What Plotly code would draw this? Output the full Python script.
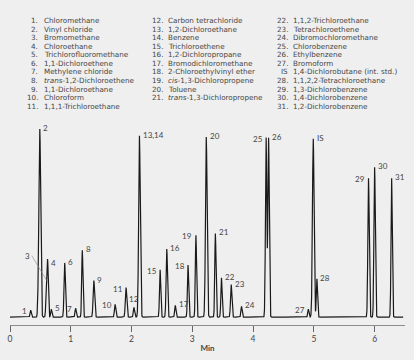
import numpy as np
import plotly.graph_objects as go

# ---- peak table ----
peak_labels = ["1", "", "2", "3", "4", "5", "6", "7", "8", "9", "10", "11", "12",
               "13,14", "15", "16", "17", "18", "19", "20", "21", "22", "23", "24",
               "25", "26", "27", "IS", "28", "29", "30", "31"]
peak_times = [0.34, 0.46, 0.49, 0.60, 0.62, 0.68, 0.90, 1.08, 1.19, 1.38, 1.73, 1.91, 2.04,
              2.13, 2.47, 2.58, 2.72, 2.93, 3.06, 3.23, 3.38, 3.48, 3.64, 3.81,
              4.215, 4.255, 4.91, 4.99, 5.05, 5.90, 6.00, 6.28]
peak_heights = [7, 11, 191, 30, 54, 8, 55, 9, 68, 37, 13, 30, 10,
                184, 48, 69, 12, 53, 83, 183, 85, 40, 33, 11,
                182, 182, 8, 181, 39, 141, 152, 141]
peak_widths = [0.010, 0.008, 0.014, 0.010, 0.010, 0.010, 0.011, 0.010, 0.010, 0.012, 0.011, 0.012, 0.010,
               0.013, 0.010, 0.011, 0.010, 0.010, 0.010, 0.013, 0.010, 0.010, 0.011, 0.010,
               0.011, 0.011, 0.010, 0.013, 0.010, 0.011, 0.011, 0.010]
# label side: r = right of apex, l = left of apex, t = above apex
label_side = ["l", "", "r", "lead", "r", "r", "r", "l", "r", "r", "l", "l", "t",
              "r", "l", "r", "r", "l", "l", "r", "r", "r", "r", "r",
              "l", "r", "l", "r", "r", "l", "r", "r"]

t_start, t_end = 0.0, 6.47
x_ticks = [0, 1, 2, 3, 4, 5, 6]

legend_1 = [("1.", "Chloromethane"), ("2.", "Vinyl chloride"), ("3.", "Bromomethane"),
            ("4.", "Chloroethane"), ("5.", "Trichlorofluoromethane"), ("6.", "1,1-Dichloroethene"),
            ("7.", "Methylene chloride"), ("8.", "<i>trans</i>-1,2-Dichloroethene"),
            ("9.", "1,1-Dichloroethane"), ("10.", "Chloroform"), ("11.", "1,1,1-Trichloroethane")]
legend_2 = [("12.", "Carbon tetrachloride"), ("13.", "1,2-Dichloroethane"), ("14.", "Benzene"),
            ("15.", "Trichloroethene"), ("16.", "1,2-Dichloropropane"),
            ("17.", "Bromodichloromethane"), ("18.", "2-Chloroethylvinyl ether"),
            ("19.", "<i>cis</i>-1,3-Dichloropropene"), ("20.", "Toluene"),
            ("21.", "<i>trans</i>-1,3-Dichloropropene")]
legend_3 = [("22.", "1,1,2-Trichloroethane"), ("23.", "Tetrachloroethene"),
            ("24.", "Dibromochloromethane"), ("25.", "Chlorobenzene"), ("26.", "Ethylbenzene"),
            ("27.", "Bromoform"), ("IS", "1,4-Dichlorobutane (int. std.)"),
            ("28.", "1,1,2,2-Tetrachloroethane"), ("29.", "1,3-Dichlorobenzene"),
            ("30.", "1,4-Dichlorobenzene"), ("31.", "1,2-Dichlorobenzene")]

# ---- build signal from the peak table ----
t = np.arange(t_start, t_end, 0.0015)
sig = np.zeros_like(t)
for tm, h, w in zip(peak_times, peak_heights, peak_widths):
    sig += h * np.exp(-0.5 * ((t - tm) / w) ** 2)

BG = "#efefef"
TXT = "#454545"
FONT = "Lato, Roboto, sans-serif"
LEG_FONT = "DejaVu Sans, Lato, sans-serif"

fig = go.Figure()
fig.add_trace(go.Scatter(x=t, y=sig, mode="lines",
                         line=dict(color="#1a1a1a", width=1.2),
                         hoverinfo="skip", showlegend=False))

W, H = 414, 360
L, R, T, B = 8, 9, 120, 32
pw, ph = W - L - R, H - T - B
Y0, Y1 = -8, 200

anns = []
for lab, tm, h, side in zip(peak_labels, peak_times, peak_heights, label_side):
    if not lab:
        continue
    f = dict(size=8, color=TXT, family=FONT)
    if side == "r":
        anns.append(dict(x=tm, y=h, text=lab, showarrow=False, xanchor="left",
                         yanchor="middle", xshift=1.5, yshift=1, font=f))
    elif side == "l":
        anns.append(dict(x=tm, y=h, text=lab, showarrow=False, xanchor="right",
                         yanchor="middle", xshift=-1.5, yshift=-1, font=f))
    elif side == "t":
        anns.append(dict(x=tm, y=h, text=lab, showarrow=False, xanchor="center",
                         yanchor="bottom", yshift=1, font=f))
    elif side == "lead":
        anns.append(dict(x=tm + 0.005, y=h + 7, text=lab, showarrow=True, arrowhead=0,
                         arrowwidth=0.6, arrowcolor="#8a8a8a", ax=-15, ay=-25,
                         font=f, xanchor="right"))


def px_to_paper(xp, yp):
    return (xp - L) / pw, (H - B - yp) / ph


def add_legend(items, num_right, text_left, y_first, step=8.7):
    for i, (num, name) in enumerate(items):
        yp = y_first + i * step
        xn, yn = px_to_paper(num_right, yp)
        xt, _ = px_to_paper(text_left, yp)
        f = dict(size=7.2, color=TXT, family=LEG_FONT)
        anns.append(dict(x=xn, y=yn, xref="paper", yref="paper", text=num, showarrow=False,
                         xanchor="right", yanchor="middle", font=f, borderpad=0))
        anns.append(dict(x=xt, y=yn, xref="paper", yref="paper", text=name, showarrow=False,
                         xanchor="left", yanchor="middle", font=f, borderpad=0))


add_legend(legend_1, 37.5, 41, 19)
add_legend(legend_2, 162.5, 165.5, 19)
add_legend(legend_3, 288.5, 291.5, 19)

fig.update_layout(
    width=W, height=H,
    margin=dict(l=L, r=R, t=T, b=B, pad=0),
    paper_bgcolor=BG, plot_bgcolor=BG,
    annotations=anns,
    xaxis=dict(range=[0, 6.5], tickvals=x_ticks, ticks="outside", ticklen=6,
               tickcolor="#666", tickwidth=1, showline=True, linecolor="#8c8c8c",
               linewidth=1, showgrid=False, zeroline=False,
               tickfont=dict(size=8.5, color=TXT, family=FONT),
               title=dict(text="<b>Min</b>", font=dict(size=8, color=TXT, family=FONT),
                          standoff=2)),
    yaxis=dict(range=[Y0, Y1], visible=False, showgrid=False, zeroline=False),
)

fig.write_html("out.html", config={"displayModeBar": False},
               post_script="document.body.style.margin='0px';document.body.style.background='#efefef';")
